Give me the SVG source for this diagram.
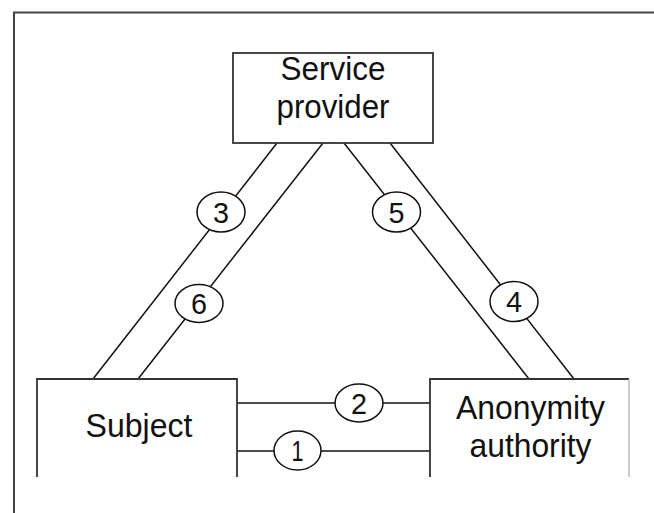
<svg xmlns="http://www.w3.org/2000/svg" width="654" height="513" viewBox="0 0 654 513">
<style>
.frame{fill:none;stroke:#444;stroke-width:2}
.box{fill:#fff;stroke:#333;stroke-width:1.8}
.edge{fill:none;stroke:#333;stroke-width:1.8}
.conn{fill:none;stroke:#111;stroke-width:1.5}
.tag{fill:#fff;stroke:#111;stroke-width:1.5}
.lbl{font-family:"Liberation Sans",Arial,sans-serif;font-size:33px;fill:#111;text-anchor:middle}
.num{font-family:"Liberation Sans",Arial,sans-serif;font-size:30px;fill:#111;text-anchor:middle}
</style>
<rect width="654" height="513" fill="#fff"/>
<path class="frame" d="M14,513 V12.5 H654"/>
<g id="connectors">
<line class="conn" x1="277" y1="143" x2="93" y2="379"/>
<line class="conn" x1="323" y1="143" x2="138" y2="379"/>
<line class="conn" x1="344" y1="143" x2="529" y2="379"/>
<line class="conn" x1="390" y1="143" x2="574" y2="379"/>
<line class="conn" x1="237" y1="403" x2="430" y2="403"/>
<line class="conn" x1="237" y1="451" x2="430" y2="451"/>
<g id="tag3"><ellipse class="tag" cx="221" cy="212" rx="24" ry="20"/><text class="num" x="221" y="223" textLength="16" lengthAdjust="spacingAndGlyphs">3</text></g>
<g id="tag6"><ellipse class="tag" cx="199" cy="303.5" rx="24" ry="19"/><text class="num" x="199" y="314" textLength="16" lengthAdjust="spacingAndGlyphs">6</text></g>
<g id="tag5"><ellipse class="tag" cx="396.5" cy="212" rx="24" ry="20"/><text class="num" x="396.5" y="223" textLength="16" lengthAdjust="spacingAndGlyphs">5</text></g>
<g id="tag4"><ellipse class="tag" cx="514" cy="301.5" rx="24" ry="20"/><text class="num" x="514" y="312" textLength="16" lengthAdjust="spacingAndGlyphs">4</text></g>
<g id="tag2"><ellipse class="tag" cx="359" cy="403" rx="24" ry="19"/><text class="num" x="359" y="414" textLength="16" lengthAdjust="spacingAndGlyphs">2</text></g>
<g id="tag1"><ellipse class="tag" cx="297.5" cy="450.5" rx="23.5" ry="19.5"/><text class="num" x="297.5" y="461" textLength="12" lengthAdjust="spacingAndGlyphs">1</text></g>
</g>
<g id="service-provider">
<rect class="box" x="233" y="53" width="200" height="90"/>
<text class="lbl" x="333" y="80" textLength="105" lengthAdjust="spacingAndGlyphs">Service</text>
<text class="lbl" x="333" y="118" textLength="113" lengthAdjust="spacingAndGlyphs">provider</text>
</g>
<g id="subject">
<path class="edge" d="M37,477 V379 H237 V477"/>
<text class="lbl" x="139" y="437" textLength="107" lengthAdjust="spacingAndGlyphs">Subject</text>
</g>
<g id="anonymity-authority">
<path class="edge" d="M430,477 V379 H629"/>
<line x1="629" y1="379" x2="629" y2="477" stroke="#bbb" stroke-width="1.5"/>
<text class="lbl" x="530.5" y="419" textLength="149" lengthAdjust="spacingAndGlyphs">Anonymity</text>
<text class="lbl" x="530.5" y="457" textLength="122" lengthAdjust="spacingAndGlyphs">authority</text>
</g>
</svg>
